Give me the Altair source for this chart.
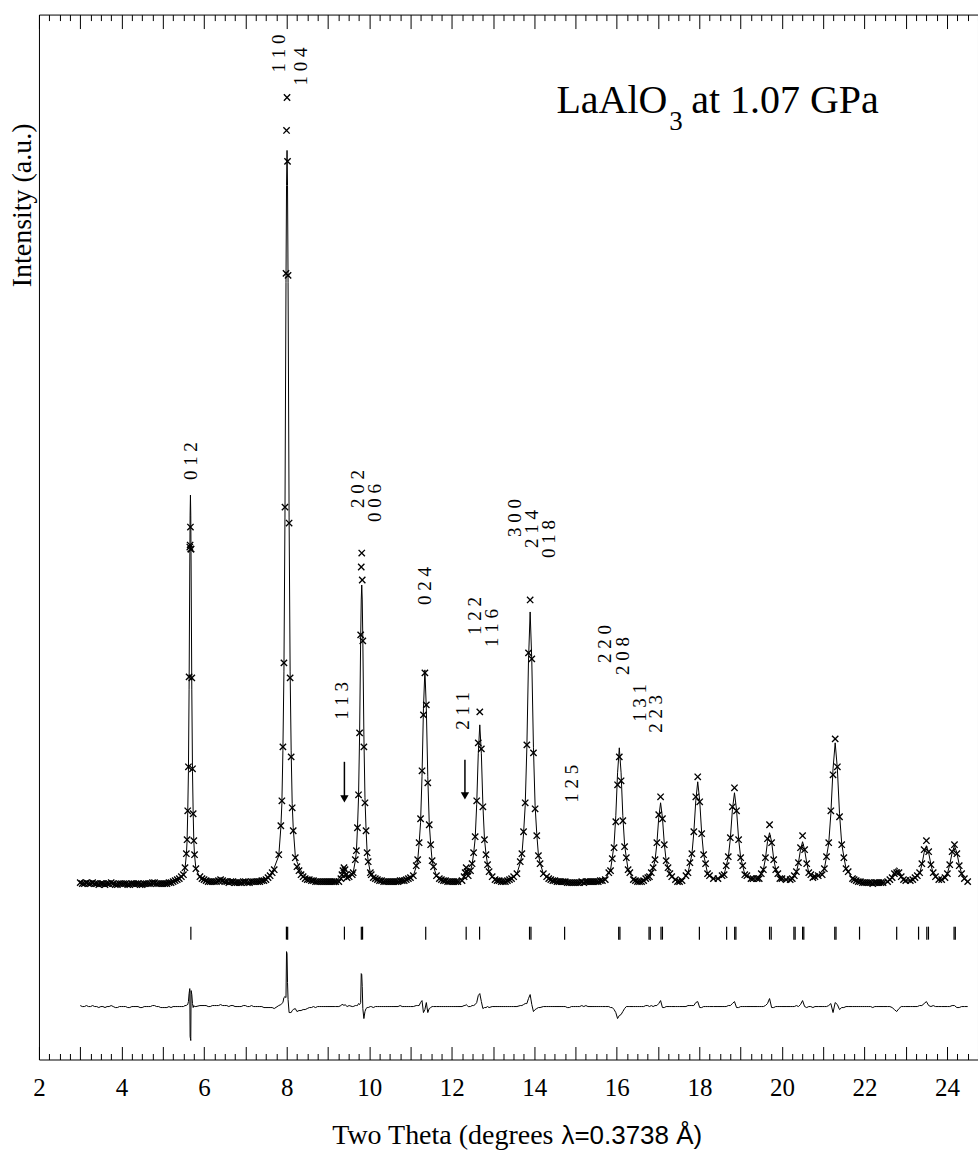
import altair as alt
import pandas as pd

# ---------------- data (intensity in a.u.) ----------------
two_theta = [
    # background 3.00-5.50
    3.00, 3.05, 3.10, 3.15, 3.20, 3.25, 3.30, 3.35, 3.40, 3.45,
    3.50, 3.55, 3.60, 3.65, 3.70, 3.75, 3.80, 3.85, 3.90, 3.95,
    4.00, 4.05, 4.10, 4.15, 4.20, 4.25, 4.30, 4.35, 4.40, 4.45,
    4.50, 4.55, 4.60, 4.65, 4.70, 4.75, 4.80, 4.85, 4.90, 4.95,
    5.00, 5.05, 5.10, 5.15, 5.20, 5.25, 5.30, 5.35, 5.40, 5.45,
    5.50,
    # 0 1 2
    5.538, 5.571, 5.588, 5.604, 5.621, 5.637, 5.654, 5.662, 5.670, 5.678, 5.686, 5.703,
    5.720, 5.736, 5.752, 5.769, 5.802,
    # background
    5.90, 5.95, 6.00, 6.05, 6.10, 6.15, 6.20, 6.25, 6.30, 6.35,
    6.40, 6.45, 6.50, 6.55, 6.60, 6.65, 6.70, 6.75, 6.80, 6.85,
    6.90, 6.95, 7.00, 7.05, 7.10, 7.15, 7.20, 7.25, 7.30, 7.35,
    7.40, 7.45, 7.50, 7.55, 7.60, 7.65, 7.70,
    # 1 1 0 / 1 0 4
    7.810, 7.860, 7.885, 7.910, 7.935, 7.960, 7.985, 7.998, 8.010, 8.022, 8.035, 8.060,
    8.085, 8.110, 8.135, 8.160, 8.210,
    # background
    8.25, 8.30, 8.35, 8.40, 8.45, 8.50, 8.55, 8.60, 8.65, 8.70,
    8.75, 8.80, 8.85, 8.90, 8.95, 9.00, 9.05, 9.10, 9.15,
    # 1 1 3
    9.19, 9.265, 9.315, 9.34, 9.365, 9.39, 9.415, 9.44, 9.465, 9.515, 9.59,
    # 2 0 2 / 0 0 6
    9.612, 9.664, 9.690, 9.716, 9.742, 9.768, 9.794, 9.808, 9.820, 9.832, 9.846, 9.872,
    9.898, 9.924, 9.950, 9.976, 10.028,
    # background
    10.05, 10.10, 10.15, 10.20, 10.25, 10.30, 10.35, 10.40, 10.45, 10.50,
    10.55, 10.60, 10.65, 10.70, 10.75, 10.80, 10.85, 10.90, 10.95, 11.00,
    # 0 2 4
    11.07, 11.14, 11.175, 11.21, 11.245, 11.28, 11.315, 11.35, 11.385, 11.42, 11.455,
    11.49, 11.525, 11.56, 11.63,
    # background
    11.70, 11.75, 11.80, 11.85, 11.90, 11.95, 12.00, 12.05, 12.10,
    # 2 1 1
    12.15, 12.25, 12.30, 12.325, 12.35, 12.375, 12.40,
    # 1 2 2 / 1 1 6
    12.455, 12.493, 12.530, 12.568, 12.605, 12.643, 12.680, 12.718, 12.755, 12.793,
    12.830, 12.868, 12.905, 12.980,
    # background
    13.05, 13.10, 13.15, 13.20, 13.25, 13.30, 13.35, 13.40, 13.45, 13.50,
    # 3 0 0 / 2 1 4 / 0 1 8
    13.58, 13.66, 13.70, 13.74, 13.78, 13.82, 13.86, 13.90, 13.94, 13.98, 14.02, 14.06,
    14.10, 14.14, 14.22,
    # background
    14.30, 14.35, 14.40, 14.45, 14.50, 14.55, 14.60, 14.65, 14.70, 14.75,
    14.80, 14.85, 14.90, 14.95, 15.00, 15.05, 15.10, 15.15, 15.20, 15.25,
    15.30, 15.35, 15.40, 15.45, 15.50, 15.55, 15.60, 15.65,
    # 2 2 0 / 2 0 8
    15.72, 15.805, 15.848, 15.89, 15.933, 15.975, 16.018, 16.06, 16.103, 16.145, 16.188,
    16.23, 16.273, 16.315, 16.40,
    # background
    16.45, 16.50, 16.55, 16.60, 16.65, 16.70, 16.75,
    # ~17.06
    16.79, 16.835, 16.88, 16.925, 16.97, 17.015, 17.06, 17.105, 17.15, 17.195, 17.24,
    17.285, 17.33, 17.42,
    17.47, 17.52,
    # ~17.96
    17.58, 17.675, 17.723, 17.77, 17.818, 17.865, 17.913, 17.96, 18.008, 18.055, 18.103,
    18.15, 18.198, 18.245, 18.34,
    # ~18.85
    18.45, 18.55, 18.60, 18.65, 18.70, 18.75, 18.80, 18.85, 18.90, 18.95, 19.00,
    19.05, 19.10, 19.15, 19.25,
    # ~19.70
    19.30, 19.40, 19.45, 19.50, 19.55, 19.60, 19.65, 19.70, 19.75, 19.80, 19.85,
    19.90, 19.95, 20.00, 20.10,
    # ~20.50
    20.20, 20.25, 20.30, 20.35, 20.40, 20.45, 20.50, 20.55, 20.60, 20.65, 20.70,
    20.75, 20.80, 20.88,
    # ~21.29
    20.975, 21.028, 21.08, 21.133, 21.185, 21.238, 21.29, 21.343, 21.395, 21.448, 21.50,
    21.553, 21.605, 21.71,
    # background
    21.75, 21.80, 21.85, 21.90, 21.95, 22.00, 22.05, 22.10, 22.15, 22.20,
    22.25, 22.30, 22.35, 22.40,
    # ~22.78
    22.45, 22.56, 22.615, 22.67, 22.725, 22.78, 22.835, 22.89, 22.945, 23.00, 23.11,
    # ~23.50
    23.17, 23.225, 23.28, 23.335, 23.39, 23.445, 23.50, 23.555, 23.61, 23.665, 23.72, 23.80,
    # ~24.18
    23.87, 23.95, 24.008, 24.065, 24.123, 24.18, 24.238, 24.295, 24.353, 24.42, 24.50,
]

y_obs = [
    2, 1, 1, 2, 1, 1, 2, 1, 1, 0,
    1, 1, 0, 1, 1, 2, 1, 0, 0, 1,
    1, 1, 1, 0, 0, 1, 1, 1, 1, 0,
    0, 1, 1, 1, 1, 2, 2, 1, 1, 1,
    1, 1, 1, 2, 2, 3, 4, 5, 6, 8,
    10,
    17, 31, 45, 74, 118, 208, 338, 340, 358, 336, 336, 207,
    116, 71, 44, 30, 16,
    8, 6, 5, 4, 3, 3, 3, 3, 3, 4,
    5, 4, 3, 3, 2, 3, 3, 2, 2, 2,
    2, 3, 3, 2, 2, 3, 3, 3, 3, 3,
    4, 4, 5, 7, 9, 12, 15,
    30, 59, 84, 138, 222, 378, 612, 755, 788, 724, 610, 362,
    207, 128, 77, 54, 27,
    18, 14, 10, 8, 6, 5, 5, 4, 4, 3,
    3, 3, 3, 3, 3, 3, 3, 3, 3,
    3, 3, 6, 10, 14, 17, 15, 10, 7, 8, 10,
    12, 25, 34, 57, 90, 152, 250, 318, 332, 305, 244, 138,
    82, 54, 32, 23, 12,
    10, 7, 6, 5, 4, 4, 3, 3, 3, 3,
    3, 3, 3, 3, 4, 4, 4, 5, 6, 7,
    9, 19, 25, 42, 66, 114, 170, 212, 180, 102, 60,
    40, 24, 18, 9,
    6, 5, 4, 4, 3, 3, 3, 3, 3,
    3, 4, 8, 12, 17, 13, 9,
    14, 21, 32, 48, 84, 142, 173, 136, 78, 45,
    30, 20, 13, 8,
    5, 4, 4, 3, 3, 3, 4, 5, 6, 8,
    11, 23, 31, 53, 82, 140, 232, 285, 226, 132, 76, 49,
    29, 21, 11,
    8, 6, 5, 4, 4, 3, 3, 3, 3, 3,
    2, 2, 2, 2, 2, 2, 2, 3, 2, 3,
    3, 3, 3, 3, 3, 3, 4, 4,
    5, 12, 14, 26, 37, 63, 100, 128, 104, 64, 38,
    27, 15, 12, 5,
    4, 3, 3, 3, 4, 6, 7,
    8, 12, 17, 25, 42, 70, 88, 66, 40, 24, 17,
    11, 8, 5,
    3, 3,
    4, 9, 12, 22, 31, 53, 88, 108, 83, 51, 30,
    21, 11, 9, 6,
    6, 9, 10, 19, 28, 47, 78, 97, 74, 45, 27,
    19, 10, 9, 6,
    6, 6, 6, 11, 15, 27, 46, 60, 42, 25, 15,
    11, 6, 6, 5,
    5, 6, 9, 13, 22, 37, 49, 35, 21, 12, 10,
    7, 8, 9,
    10, 16, 28, 42, 74, 110, 146, 118, 68, 40, 27,
    16, 13, 6,
    5, 4, 3, 3, 2, 2, 2, 2, 2, 1,
    2, 2, 2, 2,
    2, 3, 5, 7, 11, 12, 12, 8, 5, 4, 4,
    5, 7, 9, 12, 21, 35, 44, 33, 20, 12, 8, 5,
    5, 7, 11, 20, 33, 40, 31, 19, 11, 6, 3,
]

y_calc = [
    1, 1, 1, 1, 1, 1, 1, 1, 1, 1,
    1, 1, 1, 1, 1, 1, 1, 1, 1, 1,
    1, 1, 1, 1, 1, 1, 1, 1, 1, 1,
    1, 1, 1, 1, 1, 1, 1, 1, 1, 2,
    2, 2, 2, 2, 3, 3, 4, 5, 6, 8,
    10,
    16, 30, 43, 72, 113, 195, 320, 370, 390, 370, 320, 195,
    113, 72, 43, 30, 16,
    7, 5, 4, 3, 3, 3, 2, 2, 2, 3,
    3, 3, 2, 2, 2, 2, 2, 2, 2, 2,
    2, 2, 2, 2, 2, 2, 3, 3, 3, 3,
    4, 5, 6, 8, 10, 13, 17,
    29, 57, 81, 134, 213, 368, 603, 700, 735, 700, 603, 368,
    213, 134, 81, 57, 29,
    23, 18, 14, 11, 9, 7, 6, 5, 4, 4,
    3, 3, 3, 3, 3, 3, 3, 3, 3,
    3, 3, 5, 8, 12, 16, 13, 9, 7, 7, 10,
    12, 24, 33, 56, 87, 150, 246, 285, 300, 285, 246, 150,
    87, 56, 33, 24, 12,
    10, 8, 6, 5, 4, 4, 3, 3, 3, 3,
    3, 3, 3, 3, 3, 4, 4, 5, 6, 7,
    9, 18, 24, 41, 62, 108, 176, 215, 176, 108, 62,
    41, 24, 18, 9,
    6, 5, 4, 4, 3, 3, 3, 3, 3,
    3, 4, 7, 11, 15, 12, 9,
    14, 20, 31, 46, 80, 131, 160, 131, 80, 46,
    31, 20, 14, 8,
    5, 4, 4, 3, 3, 3, 4, 5, 6, 8,
    11, 22, 30, 51, 79, 137, 224, 273, 224, 137, 79, 51,
    30, 22, 11,
    8, 6, 5, 4, 4, 3, 3, 3, 3, 3,
    3, 3, 2, 2, 2, 2, 2, 2, 2, 2,
    3, 3, 3, 3, 3, 3, 4, 4,
    5, 12, 15, 27, 40, 69, 112, 137, 112, 69, 40,
    27, 15, 12, 5,
    4, 3, 3, 3, 4, 5, 6,
    8, 11, 17, 24, 41, 67, 82, 67, 41, 24, 17,
    11, 8, 5,
    3, 3,
    4, 9, 11, 21, 30, 52, 84, 103, 84, 52, 30,
    21, 11, 9, 6,
    6, 9, 10, 19, 27, 46, 75, 92, 75, 46, 27,
    19, 10, 9, 6,
    6, 6, 6, 11, 15, 26, 43, 52, 43, 26, 15,
    11, 6, 6, 5,
    5, 6, 9, 12, 22, 35, 43, 35, 22, 12, 10,
    8, 8, 9,
    10, 16, 28, 41, 71, 116, 142, 116, 71, 41, 28,
    16, 13, 6,
    5, 4, 3, 3, 2, 2, 2, 2, 2, 2,
    2, 2, 2, 2,
    2, 3, 5, 8, 14, 17, 14, 8, 5, 4, 4,
    5, 7, 9, 11, 20, 32, 39, 32, 20, 11, 8, 5,
    5, 7, 11, 20, 32, 39, 32, 20, 11, 6, 3,
]

if not (len(two_theta) == len(y_obs) == len(y_calc)):
    raise ValueError(f"length mismatch {len(two_theta)} {len(y_obs)} {len(y_calc)}")

# Bragg reflection positions (2θ)
reflections = [5.68, 7.995, 8.025, 9.40, 9.81, 9.84, 11.37, 12.35, 12.675, 13.885, 13.92,
               14.735, 16.045, 16.075, 16.78, 16.81, 17.07, 17.105, 18.00, 18.66, 18.855,
               18.885, 19.70, 19.74, 20.29, 20.32, 20.50, 20.53, 21.28, 21.31, 21.88, 22.78,
               23.31, 23.51, 23.55, 24.17, 24.20]

hkl_labels = ["0 1 2", "1 1 0", "1 0 4", "2 0 2", "0 0 6", "1 1 3", "0 2 4", "2 1 1",
              "1 2 2", "1 1 6", "3 0 0", "2 1 4", "0 1 8", "1 2 5", "2 2 0", "2 0 8",
              "1 3 1", "2 2 3"]
hkl_x = [5.686, 7.817, 8.35, 9.727, 10.14, 9.34, 11.35, 12.27,
         12.56, 12.97, 13.53, 13.94, 14.35, 14.91, 15.71, 16.14, 16.55, 16.96]
hkl_y = [405, 813, 800, 377, 363, 165, 280, 155,
         250, 238, 348, 337, 327, 82, 222, 210, 163, 152]

arrow_x = [9.40, 12.32]
arrow_top = [123, 125]
arrow_tip = [82, 85]

major_ticks = [2, 3, 4, 5, 6, 7, 8, 9, 10, 11, 12, 13, 14, 15, 16, 17, 18, 19, 20, 21, 22, 23, 24]
minor_ticks = [round(2 + 0.25 * i, 2) for i in range(92) if i % 4]

diff_offset = -122
tick_top, tick_bottom = -42, -55

# ---------------- tables ----------------
prof = pd.DataFrame({"tt": two_theta, "obs": y_obs, "calc": y_calc})
prof["diff"] = prof["obs"] - prof["calc"] + diff_offset

refl = pd.DataFrame({"tt": reflections})
refl["y0"] = tick_top
refl["y1"] = tick_bottom

hkl = pd.DataFrame({"label": hkl_labels, "tt": hkl_x, "y": hkl_y})

arrows = pd.DataFrame({"tt": arrow_x, "top": arrow_top, "tip": arrow_tip})
arrows["shaft_end"] = arrows["tip"] + 6
arrows["head"] = arrows["tip"] + 4

# ---------------- scales & axes ----------------
W, H = 940, 1046
xs = alt.Scale(domain=[2, 24.75], nice=False, zero=False)
ys = alt.Scale(domain=[-175, 871], nice=False, zero=False)
SERIF = "Liberation Serif, Times New Roman, Times, serif"
SANS = "Liberation Sans, Arial, Helvetica, sans-serif"

ax_bottom_major = alt.Axis(orient="bottom", values=major_ticks, tickSize=13, offset=-13,
                           domain=False, grid=False, tickColor="black", tickWidth=1,
                           labelExpr="datum.value % 2 == 0 ? datum.label : ''",
                           labelFont=SERIF, labelFontSize=25, labelColor="black",
                           labelPadding=16, labelFlush=False, labelOverlap=False, title=None)
ax_bottom_minor = alt.Axis(orient="bottom", values=minor_ticks, tickSize=6, offset=-6,
                           domain=False, grid=False, labels=False, tickColor="black",
                           tickWidth=1, title=None)
ax_top_major = alt.Axis(orient="top", values=major_ticks, tickSize=14, offset=-14,
                        domain=False, grid=False, labels=False, tickColor="black",
                        tickWidth=1, title=None)
ax_top_minor = alt.Axis(orient="top", values=minor_ticks, tickSize=6, offset=-6,
                        domain=False, grid=False, labels=False, tickColor="black",
                        tickWidth=1, title=None)

cross = "M-1,-1L1,1M-1,1L1,-1"

obs_pts = alt.Chart(prof).mark_point(shape=cross, filled=False, size=40, strokeWidth=1.35,
                                     color="black", opacity=1).encode(
    x=alt.X("tt:Q", scale=xs, axis=ax_bottom_minor),
    y=alt.Y("obs:Q", scale=ys, axis=None),
)
calc_line = alt.Chart(prof).mark_line(color="black", strokeWidth=1).encode(
    x=alt.X("tt:Q", scale=xs, axis=ax_bottom_major),
    y=alt.Y("calc:Q", scale=ys, axis=None),
)
diff_line = alt.Chart(prof).mark_line(color="black", strokeWidth=1).encode(
    x=alt.X("tt:Q", scale=xs, axis=ax_top_major),
    y=alt.Y("diff:Q", scale=ys, axis=None),
)
refl_rules = alt.Chart(refl).mark_rule(color="black", strokeWidth=1.2).encode(
    x=alt.X("tt:Q", scale=xs, axis=ax_top_minor),
    y=alt.Y("y0:Q", scale=ys, axis=None),
    y2="y1:Q",
)
hkl_text = alt.Chart(hkl).mark_text(angle=270, align="left", baseline="middle", font=SERIF,
                                    fontSize=19, color="black").encode(
    x=alt.X("tt:Q", scale=xs, axis=None),
    y=alt.Y("y:Q", scale=ys, axis=None),
    text="label:N",
)
arrow_shaft = alt.Chart(arrows).mark_rule(color="black", strokeWidth=1.5).encode(
    x=alt.X("tt:Q", scale=xs, axis=None),
    y=alt.Y("top:Q", scale=ys, axis=None),
    y2="shaft_end:Q",
)
arrow_head = alt.Chart(arrows).mark_point(shape="triangle-down", filled=True, size=70,
                                          color="black", opacity=1).encode(
    x=alt.X("tt:Q", scale=xs, axis=None),
    y=alt.Y("head:Q", scale=ys, axis=None),
)


def note(txt, px, py, size, font=SERIF, align="left", angle=0, baseline="alphabetic"):
    return alt.Chart(pd.DataFrame({"t": [txt]})).mark_text(
        align=align, baseline=baseline, font=font, fontSize=size, color="black", angle=angle
    ).encode(x=alt.value(px), y=alt.value(py), text="t:N")


title_main = note("LaAlO", 518, 99, 40)
title_sub = note("3", 631, 116, 27)
title_rest = note("at 1.07 GPa", 653, 99, 40)
xtitle_a = note("Two Theta (degrees", 515, 1131, 28, align="right")
xtitle_b = note("λ=0.3738 Å)", 523, 1131, 26, font=SANS)
ytitle = note("Intensity (a.u.)", -16, 191, 28, align="center", angle=270, baseline="middle")

chart = alt.layer(
    obs_pts, calc_line, diff_line, refl_rules, hkl_text, arrow_shaft, arrow_head,
    title_main, title_sub, title_rest, xtitle_a, xtitle_b, ytitle,
).resolve_axis(x="independent").properties(
    width=W, height=H,
    padding={"left": 39, "top": 14, "right": 0, "bottom": 94},
    autosize=alt.AutoSizeParams(type="none"),
    background="white",
).configure_view(stroke="black", strokeWidth=1).configure_axis(
    labelFont=SERIF, titleFont=SERIF
).configure_text(font=SERIF)

chart.save("out.html", embed_options={"renderer": "svg", "actions": False})
